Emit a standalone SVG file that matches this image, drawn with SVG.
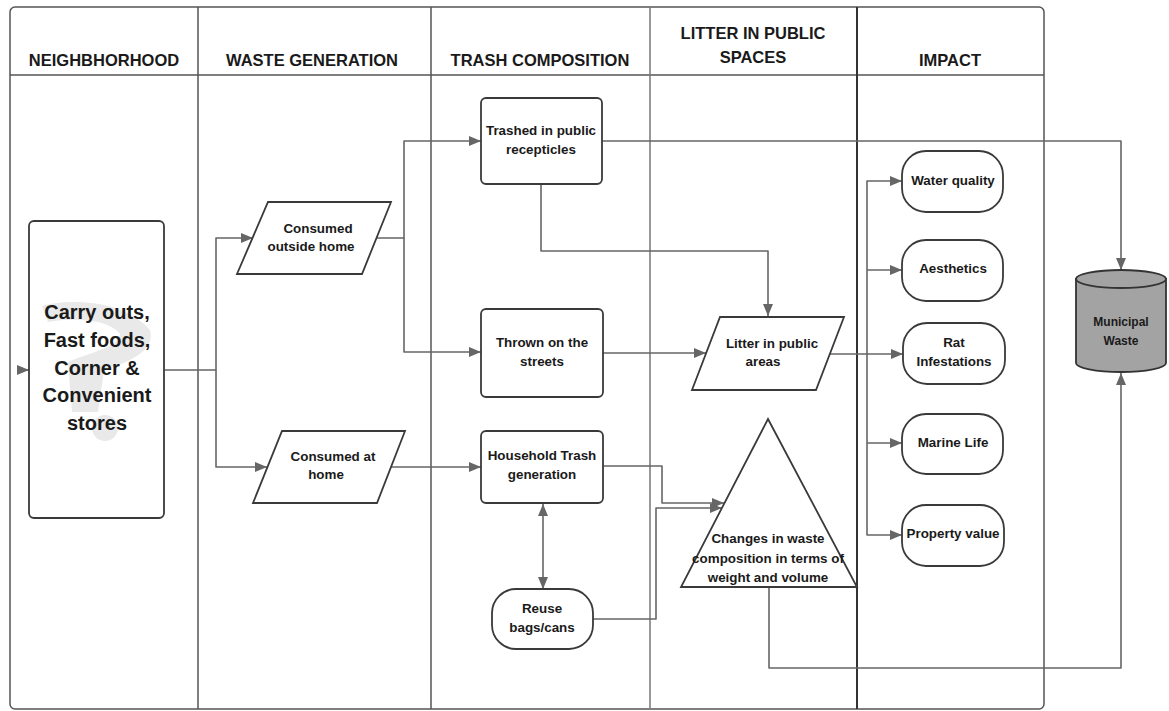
<svg xmlns="http://www.w3.org/2000/svg" width="1169" height="711" viewBox="0 0 1169 711">
<style>
  .lane{fill:none;stroke:#555;stroke-width:1.5}
  .lane2{fill:none;stroke:#333;stroke-width:2}
  .hdr{font-family:"Liberation Sans",Arial,sans-serif;font-weight:bold;font-size:16.5px;fill:#1a1a1a;text-anchor:middle}
  .node{fill:#fff;stroke:#3a3a3a;stroke-width:1.8}
  .t{font-family:"Liberation Sans",Arial,sans-serif;font-weight:bold;font-size:13.4px;fill:#1a1a1a;text-anchor:middle}
  .big{font-family:"Liberation Sans",Arial,sans-serif;font-weight:bold;font-size:20px;fill:#1a1a1a;text-anchor:middle}
  .c{fill:none;stroke:#666;stroke-width:1.6;stroke-linejoin:round}
</style>
<defs>
  <marker id="ah" markerUnits="userSpaceOnUse" markerWidth="13" markerHeight="10" refX="12" refY="5" orient="auto-start-reverse">
    <path d="M0,0 L12,5 L0,10 z" fill="#666"/>
  </marker>
</defs>
<rect width="1169" height="711" fill="#fff"/>

<g id="pool">
  <rect class="lane" x="10" y="7" width="1034" height="702" rx="5"/>
  <line class="lane" x1="10" y1="75" x2="1044" y2="75"/>
  <line class="lane" x1="198" y1="7" x2="198" y2="709"/>
  <line class="lane" x1="431" y1="7" x2="431" y2="709"/>
  <line class="lane" x1="650" y1="7" x2="650" y2="709" style="stroke:#777"/>
  <line class="lane2" x1="857" y1="7" x2="857" y2="709"/>
  <text class="hdr" x="104" y="66">NEIGHBHORHOOD</text>
  <text class="hdr" x="312" y="66">WASTE GENERATION</text>
  <text class="hdr" x="540" y="66">TRASH COMPOSITION</text>
  <text class="hdr" x="753" y="39">LITTER IN PUBLIC</text>
  <text class="hdr" x="753" y="63">SPACES</text>
  <text class="hdr" x="950" y="66">IMPACT</text>
</g>

<g id="connectors">
  <path class="c" d="M17,370 L29,370" marker-end="url(#ah)"/>
  <path class="c" d="M164,370 L216,370 L216,238 L253,238" marker-end="url(#ah)"/>
  <path class="c" d="M216,370 L216,467 L267,467" marker-end="url(#ah)"/>
  <path class="c" d="M377,238 L404,238 L404,141 L481,141" marker-end="url(#ah)"/>
  <path class="c" d="M404,238 L404,352 L481,352" marker-end="url(#ah)"/>
  <path class="c" d="M391,467 L481,467" marker-end="url(#ah)"/>
  <path class="c" d="M602,141 L1121,141 L1121,270" marker-end="url(#ah)"/>
  <path class="c" d="M541,184 L541,251 L768,251 L768,316" marker-end="url(#ah)"/>
  <path class="c" d="M603,353 L706,353" marker-end="url(#ah)"/>
  <path class="c" d="M830,354 L867,354 L903,354" marker-end="url(#ah)"/>
  <path class="c" d="M867,354 L867,181 L902,181" marker-end="url(#ah)"/>
  <path class="c" d="M867,270 L902,270" marker-end="url(#ah)"/>
  <path class="c" d="M867,354 L867,535 L902,535" marker-end="url(#ah)"/>
  <path class="c" d="M867,443 L902,443" marker-end="url(#ah)"/>
  <path class="c" d="M603,466 L662,466 L662,503 L724,503" marker-end="url(#ah)"/>
  <path class="c" d="M593,619 L656,619 L656,508 L722,508" marker-end="url(#ah)"/>
  <path class="c" d="M543,504 L543,589" marker-start="url(#ah)" marker-end="url(#ah)"/>
  <path class="c" d="M769,587 L769,668 L1121,668 L1121,373" marker-end="url(#ah)"/>
</g>

<g id="stores">
  <rect class="node" x="29" y="221" width="135" height="297" rx="5"/>
  <g fill="#e9e9e9">
    <path d="M42,306 C60,300 120,296 150,330 C156,350 130,362 104,370 L98,412 L72,412 L68,362 C90,352 118,348 120,334 C108,318 70,318 48,322 Z"/>
    <circle cx="105" cy="428" r="13"/>
  </g>
  <text class="big" x="97" y="319">Carry outs,</text>
  <text class="big" x="97" y="347">Fast foods,</text>
  <text class="big" x="97" y="375">Corner &amp;</text>
  <text class="big" x="97" y="402">Convenient</text>
  <text class="big" x="97" y="430">stores</text>
</g>

<g id="outside">
  <path class="node" d="M268,202 L391,202 L362,274 L237,274 Z"/>
  <text class="t" x="318" y="233">Consumed</text>
  <text class="t" x="311" y="251">outside home</text>
</g>

<g id="athome">
  <path class="node" d="M282,431 L405,431 L377,503 L253,503 Z"/>
  <text class="t" x="333" y="461">Consumed at</text>
  <text class="t" x="326" y="479">home</text>
</g>

<g id="trashed">
  <rect class="node" x="481" y="98" width="121" height="86" rx="5"/>
  <text class="t" x="541" y="135">Trashed in public</text>
  <text class="t" x="541" y="154">recepticles</text>
</g>

<g id="thrown">
  <rect class="node" x="481" y="309" width="122" height="88" rx="5"/>
  <text class="t" x="542" y="347">Thrown on the</text>
  <text class="t" x="542" y="366">streets</text>
</g>

<g id="household">
  <rect class="node" x="481" y="431" width="122" height="72" rx="5"/>
  <text class="t" x="542" y="460">Household Trash</text>
  <text class="t" x="542" y="479">generation</text>
</g>

<g id="reuse">
  <rect class="node" x="492" y="589" width="101" height="60" rx="24"/>
  <text class="t" x="542" y="613">Reuse</text>
  <text class="t" x="542" y="632">bags/cans</text>
</g>

<g id="litter">
  <path class="node" d="M720,317 L844,317 L816,390 L692,390 Z"/>
  <text class="t" x="772" y="348">Litter in public</text>
  <text class="t" x="763" y="366">areas</text>
</g>

<g id="changes">
  <path class="node" d="M768,419 L857,587 L681,587 Z"/>
  <text class="t" x="768" y="543">Changes in waste</text>
  <text class="t" x="768" y="563">composition in terms of</text>
  <text class="t" x="768" y="582">weight and volume</text>
</g>

<g id="water">
  <rect class="node" x="902" y="151" width="101" height="61" rx="24"/>
  <text class="t" x="953" y="185">Water quality</text>
</g>
<g id="aesthetics">
  <rect class="node" x="902" y="240" width="101" height="61" rx="24"/>
  <text class="t" x="953" y="273">Aesthetics</text>
</g>
<g id="rat">
  <rect class="node" x="903" y="323" width="102" height="61" rx="24"/>
  <text class="t" x="954" y="347">Rat</text>
  <text class="t" x="954" y="366">Infestations</text>
</g>
<g id="marine">
  <rect class="node" x="902" y="414" width="101" height="60" rx="24"/>
  <text class="t" x="953" y="447">Marine Life</text>
</g>
<g id="property">
  <rect class="node" x="902" y="505" width="102" height="61" rx="24"/>
  <text class="t" x="953" y="538">Property value</text>
</g>

<g id="municipal">
  <path d="M1076,279 L1076,363 A45,9 0 0 0 1166,363 L1166,279 Z" fill="#a3a3a3" stroke="#333" stroke-width="1.8"/>
  <ellipse cx="1121" cy="279" rx="45" ry="9" fill="#a3a3a3" stroke="#333" stroke-width="1.8"/>
  <text class="t" x="1121" y="326" style="font-size:12px">Municipal</text>
  <text class="t" x="1121" y="345" style="font-size:12px">Waste</text>
</g>
</svg>
